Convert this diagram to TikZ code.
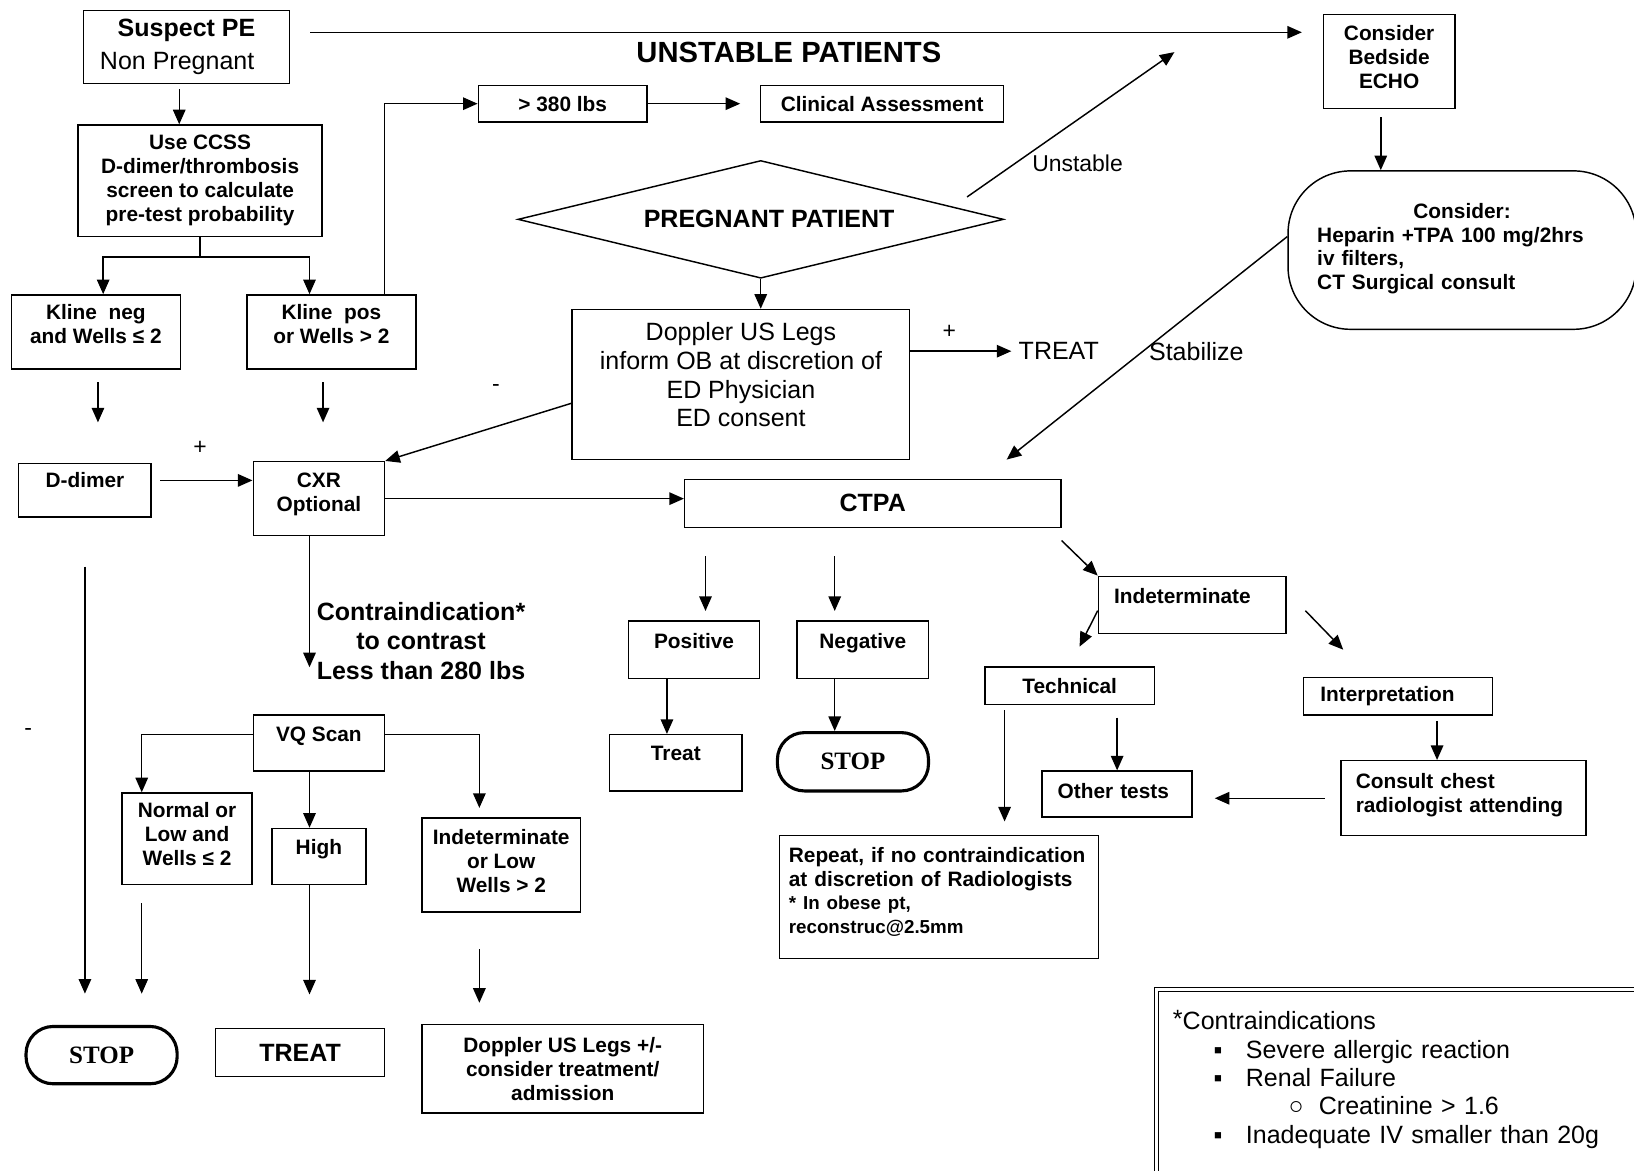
\documentclass[tikz,border=0pt]{standalone}
\usepackage{fontspec}
\setmainfont{Liberation Sans}
\newfontfamily\stopfont{Liberation Serif}
\usetikzlibrary{shapes.geometric, arrows.meta, positioning}

\begin{document}
\begin{tikzpicture}[
    x=0.5pt, y=-0.5pt,
    box/.style={draw, rectangle, line width=0.7pt, inner sep=0pt, align=center, font=\fontsize{10pt}{11.5pt}\selectfont\bfseries},
    bigbox/.style={box, font=\fontsize{12pt}{14pt}\selectfont\bfseries},
    plainbox/.style={box, font=\fontsize{12pt}{13.8pt}\selectfont},
    stopbox/.style={draw, rectangle, rounded corners=13pt, line width=1.5pt, inner sep=0pt, font=\fontsize{12pt}{14pt}\selectfont\stopfont\bfseries},
    decision/.style={draw, diamond, aspect=4.1, line width=0.7pt, inner sep=0pt, font=\fontsize{12pt}{14pt}\selectfont\bfseries},
    note/.style={font=\fontsize{12pt}{14pt}\selectfont},
    sign/.style={font=\fontsize{11pt}{13pt}\selectfont},
    arrow/.style={line width=0.7pt, -{Triangle[length=7pt, width=6pt]}},
    line/.style={line width=0.7pt}
]
    \useasboundingbox (0,0) rectangle (1568,1123);

    % Nodes
    \node (suspect) [box, font=\fontsize{12pt}{15.5pt}\selectfont, minimum width=99pt, minimum height=35pt] at (179,45) {\textbf{Suspect PE}\\Non Pregnant\hspace*{9pt}};
    \node (title) [note, font=\fontsize{14pt}{16pt}\selectfont\bfseries] at (757,50) {UNSTABLE PATIENTS};
    \node (echo) [box, minimum width=63pt, minimum height=45pt, text depth=4pt] at (1333,59) {Consider\\Bedside\\ECHO};
    \node (ccss) [box, minimum width=117pt, minimum height=53.5pt] at (192,173.5) {Use CCSS\\D-dimer/thrombosis\\screen to calculate\\pre-test probability};
    \node (lbs) [box, minimum width=81pt, minimum height=17.5pt] at (540,99.5) {> 380 lbs};
    \node (clinical) [box, minimum width=116.5pt, minimum height=17.5pt] at (846.5,99.5) {Clinical Assessment};
    \node (pregnant) [decision, minimum width=233pt, minimum height=56.5pt] at (730,210.5) {\hspace*{8pt}PREGNANT PATIENT};
    \node (consider) [box, align=left, rounded corners=30pt, text width=139pt, inner xsep=14pt, minimum height=76pt, text depth=38pt] at (1403,240) {\makebox[\linewidth]{Consider:}\\Heparin +TPA 100 mg/2hrs\\iv filters,\\CT Surgical consult};
    \node (klineneg) [box, minimum width=81pt, minimum height=35.5pt, text depth=7.5pt] at (92,318.5) {Kline~~neg\\and Wells ≤ 2};
    \node (klinepos) [box, minimum width=81pt, minimum height=35.5pt, text depth=7.5pt] at (318,318.5) {Kline~~pos\\or Wells > 2};
    \node (doppler) [plainbox, minimum width=162pt, minimum height=72pt, text depth=9.5pt] at (711,369) {Doppler US Legs\\inform OB at discretion of\\ED Physician\\ED consent};
    \node (treat) [note] at (1016,337) {TREAT};
    \node (ddimer) [box, minimum width=63.5pt, minimum height=25.5pt, text depth=9.5pt] at (81.5,470.5) {D-dimer};
    \node (cxr) [box, minimum width=63pt, minimum height=35.5pt, text depth=6.5pt] at (306,478.5) {CXR\\Optional};
    \node (ctpa) [bigbox, minimum width=180.5pt, minimum height=23pt] at (837.5,483) {CTPA};
    \node (contrast) [note, font=\fontsize{12pt}{14pt}\selectfont\bfseries, align=center] at (404,615) {Contraindication*\\to contrast\\Less than 280 lbs};
    \node (positive) [box, minimum width=63pt, minimum height=27.5pt, text depth=8.5pt] at (666,623.5) {Positive};
    \node (negative) [box, minimum width=63pt, minimum height=27.5pt, text depth=8.5pt] at (828,623.5) {Negative};
    \node (treatbox) [box, minimum width=63.5pt, minimum height=27pt, text depth=9pt] at (648.5,732) {Treat};
    \node (stopmid) [stopbox, minimum width=72.5pt, minimum height=28pt] at (818.5,731) {STOP};
    \node (indet) [box, align=left, text width=75pt, inner xsep=7.5pt, minimum height=27.5pt, text depth=8.5pt] at (1144,580.5) {Indeterminate};
    \node (technical) [box, minimum width=81.5pt, minimum height=18pt] at (1026.5,658) {Technical};
    \node (interp) [box, align=left, text width=74.5pt, inner xsep=8pt, minimum height=18pt] at (1341.5,668) {Interpretation};
    \node (othertests) [box, align=left, text width=57pt, inner xsep=7.5pt, minimum height=22pt, text depth=3pt] at (1072,762) {Other tests};
    \node (consult) [box, align=left, text width=103.5pt, inner xsep=7pt, minimum height=36pt, text depth=17pt] at (1404.5,766) {Consult chest\\radiologist attending};
    \node (repeat) [box, align=left, text width=144pt, inner xsep=4.5pt, minimum height=59pt, text depth=40.5pt] at (901,861) {Repeat, if no contraindication\\at discretion of Radiologists\\{\fontsize{9pt}{11pt}\selectfont * In obese pt,\\reconstruc@2.5mm}};
    \node (vq) [box, minimum width=63pt, minimum height=27pt, text depth=8pt] at (306,713) {VQ Scan};
    \node (normal) [box, minimum width=62.5pt, minimum height=44pt, text depth=5pt] at (179.5,805) {Normal or\\Low and\\Wells ≤ 2};
    \node (high) [box, minimum width=45pt, minimum height=27pt, text depth=9pt] at (306,822) {High};
    \node (indetlow) [box, minimum width=76pt, minimum height=45pt, text depth=4pt] at (481,830) {Indeterminate\\or Low\\Wells > 2};
    \node (stopleft) [stopbox, minimum width=72.5pt, minimum height=27.5pt] at (97.5,1012.5) {STOP};
    \node (treatleft) [bigbox, minimum width=81pt, minimum height=23pt] at (288,1010) {TREAT};
    \node (dopplerleft) [box, minimum width=135pt, minimum height=42.5pt] at (540,1025.5) {Doppler US Legs +/-\\consider treatment/\\admission};
    \node (contralist) [draw, double, double distance=1.2pt, line width=0.6pt, anchor=north west, align=left, text width=220pt, inner xsep=8pt, inner ysep=10pt, text depth=66pt, font=\fontsize{12pt}{13.6pt}\selectfont] at (1109,949) {\raisebox{1pt}{\large*}Contraindications\\
        \hspace*{19.5pt}\makebox[15.5pt][l]{▪}Severe allergic reaction\\
        \hspace*{19.5pt}\makebox[15.5pt][l]{▪}Renal Failure\\
        \hspace*{55.5pt}\makebox[14.5pt][l]{○}Creatinine > 1.6\\
        \hspace*{19.5pt}\makebox[15.5pt][l]{▪}Inadequate IV smaller than 20g};

    % Labels
    \node (unstlbl) [note, font=\fontsize{11pt}{13pt}\selectfont] at (1034,157) {Unstable};
    \node (stablbl) [note] at (1148,337) {Stabilize};
    \node (plustreat) [sign] at (911,318) {+};
    \node (minuscxr) [sign] at (476,372) {-};
    \node (plusddimer) [sign] at (192,430) {+};
    \node (minusstop) [sign] at (27,702) {-};
    \coordinate (unstfrom) at (928,189);
    \coordinate (unstto) at (1127,50);
    \coordinate (stabto) at (966,441);

    % Arrows
    \draw [arrow, shorten <=9.5pt, shorten >=10pt] ([yshift=7pt]suspect.east) -- ([yshift=7pt]suspect.east -| echo.west);
    \draw [arrow, shorten <=2.5pt] ([xshift=-3.5pt]suspect.south) -- ([xshift=-3.5pt]suspect.south |- ccss.north);
    \draw [line] (ccss.south) -- ++(0,19) coordinate (split);
    \draw [arrow] (split) -| ([xshift=3.5pt]klineneg.north);
    \draw [arrow] (split) -| ([xshift=-10.5pt]klinepos.north);
    \draw [arrow] ([xshift=25.5pt]klinepos.north) |- (lbs.west);
    \draw [arrow, shorten >=9.5pt] (lbs.east) -- (clinical.west);
    \draw [arrow, shorten <=6pt, shorten >=19.5pt] ([xshift=1pt]klineneg.south) -- ([xshift=1pt]klineneg.south |- ddimer.north);
    \draw [arrow, shorten <=6pt, shorten >=18.5pt] ([xshift=-4pt]klinepos.south) -- ([xshift=-4pt]klinepos.south |- cxr.north);
    \draw [arrow, shorten <=4pt] ([yshift=4.75pt]ddimer.east) -- ([yshift=4.75pt]ddimer.east -| cxr.west);
    \draw [arrow] ([yshift=-9pt]doppler.west) -- (cxr.north east);
    \draw [arrow] (pregnant.south) -- (pregnant.south |- doppler.north);
    \draw [arrow] (doppler.east |- treat.west) -- (treat.west);
    \draw [arrow] (unstfrom) -- (unstto);
    \draw [arrow, shorten <=4pt] ([xshift=-4pt]echo.south) -- ([xshift=-4pt]echo.south |- consider.north);
    \draw [arrow] ([yshift=6.5pt]consider.west) -- (stabto);
    \draw [arrow] (cxr.east) -- (cxr.east -| ctpa.west);
    \draw [arrow, shorten >=22.5pt] ([xshift=-4.5pt]cxr.south) -- ([xshift=-4.5pt]cxr.south |- vq.north);
    \draw [arrow, shorten <=23.5pt, shorten >=15pt] (ddimer.south) -- (ddimer.south |- stopleft.north);
    \draw [arrow, shorten <=13.5pt, shorten >=4.5pt] ([xshift=5.5pt]positive.north |- ctpa.south) -- ([xshift=5.5pt]positive.north);
    \draw [arrow, shorten <=13.5pt, shorten >=4.5pt] ([xshift=-13.5pt]negative.north |- ctpa.south) -- ([xshift=-13.5pt]negative.north);
    \draw [arrow] ([yshift=-6pt]ctpa.south east) -- (indet.north west);
    \draw [arrow, shorten >=10.5pt] ([yshift=-2.75pt]indet.west) -- (technical.north);
    \draw [arrow, shorten <=12.9pt, shorten >=18pt] ([yshift=6.5pt]indet.east) -- ([xshift=-13.75pt]interp.north);
    \draw [arrow] ([xshift=-13pt]positive.south) -- ([xshift=-13pt]positive.south |- treatbox.north);
    \draw [arrow] ([xshift=-13.5pt]negative.south) -- ([xshift=-13.5pt]negative.south |- stopmid.north);
    \draw [arrow, shorten <=2.5pt, shorten >=6.5pt] ([xshift=-31.25pt]technical.south) -- ([xshift=-31.25pt]technical.south |- repeat.north);
    \draw [arrow, shorten <=6pt] (othertests.north |- technical.south) -- (othertests.north);
    \draw [arrow, shorten <=2.5pt] ([xshift=-12.75pt]consult.north |- interp.south) -- ([xshift=-12.75pt]consult.north);
    \draw [arrow, shorten <=7.5pt, shorten >=10.5pt] (consult.west) -- (consult.west -| othertests.east);
    \draw [arrow] ([yshift=4pt]vq.west) -| ([xshift=-21.75pt]normal.north);
    \draw [arrow] ([xshift=-4.5pt]vq.south) -- ([xshift=-4.5pt]vq.south |- high.north);
    \draw [arrow, shorten >=4.5pt] ([yshift=4pt]vq.east) -| ([xshift=-10.5pt]indetlow.north);
    \draw [arrow, shorten <=8.5pt, shorten >=15pt] ([xshift=-21.75pt]normal.south) -- ([xshift=-21.75pt]normal.south |- stopleft.north);
    \draw [arrow, shorten >=16pt] ([xshift=-4.5pt]high.south) -- ([xshift=-4.5pt]high.south |- treatleft.north);
    \draw [arrow, shorten <=17.5pt, shorten >=10pt] ([xshift=-10.5pt]indetlow.south) -- ([xshift=-10.5pt]indetlow.south |- dopplerleft.north);
\end{tikzpicture}
\end{document}
